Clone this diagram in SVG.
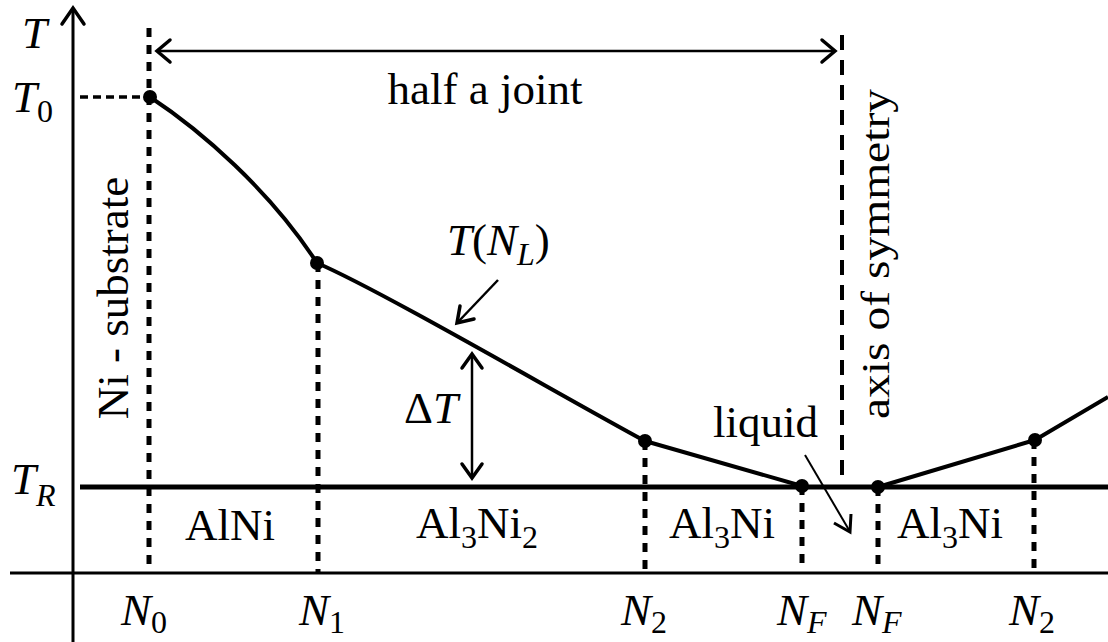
<svg xmlns="http://www.w3.org/2000/svg" width="1108" height="642" viewBox="0 0 1108 642">
<style>
text{font-family:"Liberation Serif","Times New Roman",serif;fill:#000}
.t{font-size:45px}
.it{font-style:italic}
.sub{font-size:32px;font-style:normal}
.subi{font-size:32px;font-style:italic}
.ax{stroke:#000;stroke-width:3;fill:none}
.dot{stroke:#000;stroke-width:5;stroke-dasharray:9 8;fill:none}
.curve{stroke:#000;stroke-width:4;fill:none;stroke-linejoin:round}
.arr{stroke:#000;stroke-width:2.5;fill:none}
.head{stroke:#000;stroke-width:3.5;fill:none;stroke-linecap:round;stroke-linejoin:miter}
.pt{fill:#000}
</style>
<rect width="1108" height="642" fill="#fff"/>
<g id="axes">
<line class="ax" x1="73" y1="642" x2="73" y2="9"/>
<polyline class="head" points="62,24 73,8 84,24"/>
<line class="ax" x1="10" y1="573" x2="1108" y2="573"/>
<line x1="80" y1="487" x2="1108" y2="487" stroke="#000" stroke-width="5"/>
<line x1="80" y1="97" x2="150" y2="97" stroke="#000" stroke-width="3.5" stroke-dasharray="8 5"/>
<line class="dot" x1="149" y1="28" x2="149" y2="567"/>
<line class="dot" x1="318" y1="263" x2="318" y2="573"/>
<line class="dot" x1="645" y1="441" x2="645" y2="573"/>
<line class="dot" x1="802" y1="486" x2="802" y2="568"/>
<line class="dot" x1="878" y1="487" x2="878" y2="573"/>
<line class="dot" x1="1034" y1="440" x2="1034" y2="573"/>
<line x1="842" y1="35" x2="842" y2="482" stroke="#000" stroke-width="4" stroke-dasharray="15 10"/>
</g>
<g id="connectors">
<path id="curve-left" class="curve" d="M150,97 C200,130 270,190 317,263 C380,290 560,395 645,441 L802,486"/>
<path id="curve-right" class="curve" d="M878,487 L1035,440 L1108,397"/>
<g id="arrow-half-joint">
<line class="arr" x1="158" y1="51" x2="834" y2="51"/>
<polyline class="head" points="170,40 157,51 170,62"/>
<polyline class="head" points="822,40 835,51 822,62"/>
</g>
<g id="arrow-TNL">
<line class="arr" x1="498" y1="280" x2="458" y2="322"/>
<polyline class="head" points="460,306 457,323 474,319"/>
</g>
<g id="arrow-dT">
<line class="arr" x1="472" y1="356" x2="472" y2="476"/>
<polyline class="head" points="462,368 472,354 482,368"/>
<polyline class="head" points="462,464 472,478 482,464"/>
</g>
<g id="arrow-liquid">
<line x1="805" y1="455" x2="849" y2="530" stroke="#000" stroke-width="2"/>
<polyline points="834,523 850,532 851,514" stroke="#000" stroke-width="3" fill="none"/>
</g>
</g>
<g id="node-T0"><circle class="pt" cx="150" cy="97" r="7"/></g>
<g id="node-N1"><circle class="pt" cx="317" cy="263" r="7"/></g>
<g id="node-N2"><circle class="pt" cx="645" cy="441" r="7"/></g>
<g id="node-NF"><circle class="pt" cx="802" cy="486" r="7"/></g>
<g id="node-NF-right"><circle class="pt" cx="878" cy="487" r="7"/></g>
<g id="node-N2-right"><circle class="pt" cx="1035" cy="440" r="7"/></g>
<g id="labels">
<text class="t it" x="22" y="48">T</text>
<text class="t it" x="12" y="112">T<tspan class="sub" dy="10">0</tspan></text>
<text class="t it" x="11" y="494">T<tspan class="subi" dy="12">R</tspan></text>
<text class="t" x="485" y="104" text-anchor="middle">half a joint</text>
<text class="t" transform="translate(128,298) rotate(-90)" text-anchor="middle">Ni - substrate</text>
<text style="font-size:41px" transform="translate(889,254) rotate(-90)" text-anchor="middle" textLength="330" lengthAdjust="spacingAndGlyphs">axis of symmetry</text>
<text class="t" x="447" y="255"><tspan class="it">T</tspan>(<tspan class="it">N</tspan><tspan class="subi" dy="10">L</tspan><tspan dy="-10">)</tspan></text>
<text class="t" x="404" y="423">Δ<tspan class="it">T</tspan></text>
<text class="t" x="713" y="437">liquid</text>
<text class="t" x="230" y="540" text-anchor="middle">AlNi</text>
<text class="t" x="477" y="538" text-anchor="middle">Al<tspan class="sub" dy="10">3</tspan><tspan dy="-10">Ni</tspan><tspan class="sub" dy="10">2</tspan></text>
<text class="t" x="722" y="538" text-anchor="middle">Al<tspan class="sub" dy="10">3</tspan><tspan dy="-10">Ni</tspan></text>
<text class="t" x="950" y="538" text-anchor="middle">Al<tspan class="sub" dy="10">3</tspan><tspan dy="-10">Ni</tspan></text>
<text class="t it" x="121" y="625">N<tspan class="sub" dy="8">0</tspan></text>
<text class="t it" x="299" y="625">N<tspan class="sub" dy="8">1</tspan></text>
<text class="t it" x="621" y="625">N<tspan class="sub" dy="8">2</tspan></text>
<text class="t it" x="777" y="625">N<tspan class="subi" dy="8">F</tspan></text>
<text class="t it" x="852" y="625">N<tspan class="subi" dy="8">F</tspan></text>
<text class="t it" x="1009" y="625">N<tspan class="sub" dy="8">2</tspan></text>
</g>
</svg>
